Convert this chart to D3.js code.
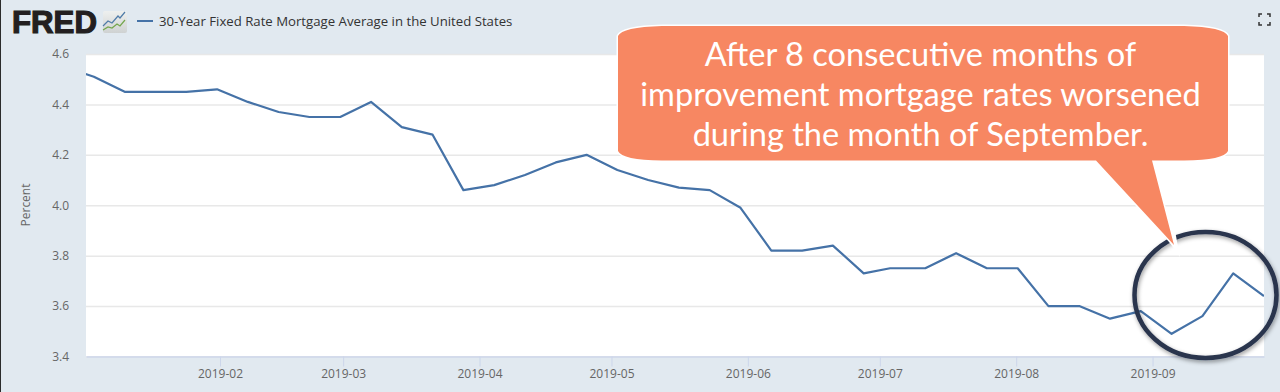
<!DOCTYPE html>
<html>
<head>
<meta charset="utf-8">
<script src="https://cdn.jsdelivr.net/npm/d3@7"></script>
<style>
  html, body { margin: 0; padding: 0; background: #e1e9f0; overflow: hidden; }
  text { font-family: "Open Sans", sans-serif; }
</style>
</head>
<body>
<div class="canvas"></div>
<script>
// weekly survey dates, first one sits just outside the visible range
const dates = [
  "2018-12-27", "2019-01-03", "2019-01-10", "2019-01-17", "2019-01-24", "2019-01-31",
  "2019-02-07", "2019-02-14", "2019-02-21", "2019-02-28", "2019-03-07", "2019-03-14",
  "2019-03-21", "2019-03-28", "2019-04-04", "2019-04-11", "2019-04-18", "2019-04-25",
  "2019-05-02", "2019-05-09", "2019-05-16", "2019-05-23", "2019-05-30", "2019-06-06",
  "2019-06-13", "2019-06-20", "2019-06-27", "2019-07-03", "2019-07-11", "2019-07-18",
  "2019-07-25", "2019-08-01", "2019-08-08", "2019-08-15", "2019-08-22", "2019-08-29",
  "2019-09-05", "2019-09-12", "2019-09-19", "2019-09-26"
];
const rates = [
  4.55, 4.51, 4.45, 4.45, 4.45, 4.46,
  4.41, 4.37, 4.35, 4.35, 4.41, 4.31,
  4.28, 4.06, 4.08, 4.12, 4.17, 4.20,
  4.14, 4.10, 4.07, 4.06, 3.99, 3.82,
  3.82, 3.84, 3.73, 3.75, 3.75, 3.81,
  3.75, 3.75, 3.60, 3.60, 3.55, 3.58,
  3.49, 3.56, 3.73, 3.64
];
const xTicks = ["2019-02-01", "2019-03-01", "2019-04-01", "2019-05-01", "2019-06-01", "2019-07-01", "2019-08-01", "2019-09-01"];
const yTicks = [3.4, 3.6, 3.8, 4.0, 4.2, 4.4, 4.6];
const seriesName = "30-Year Fixed Rate Mortgage Average in the United States";
const calloutLines = [
  "After 8 consecutive months of",
  "improvement mortgage rates worsened",
  "during the month of September."
];

const width = 1280;
const height = 392;
const plot = { left: 86, right: 1264, top: 54, bottom: 356.5 };

const svg = d3
  .select(".canvas")
  .append("svg")
  .attr("width", width)
  .attr("height", height)
  .style("display", "block");

svg.append("rect").attr("width", width).attr("height", height).attr("fill", "#e1e9f0");
svg.append("rect").attr("width", 1).attr("height", height).attr("fill", "#2b2b2b");

svg
  .append("rect")
  .attr("x", plot.left)
  .attr("y", plot.top)
  .attr("width", plot.right - plot.left)
  .attr("height", plot.bottom - plot.top)
  .attr("fill", "#fff");

// scales
const parseDate = d3.utcParse("%Y-%m-%d");
const xScale = d3
  .scaleUtc()
  .domain([new Date(Date.UTC(2019, 0, 1, 13)), new Date(Date.UTC(2019, 8, 26, 8))])
  .range([plot.left, plot.right]);
const yScale = d3.scaleLinear().domain([3.4, 4.6]).range([plot.bottom, plot.top]);

// y axis with gridlines
const yAxis = d3
  .axisLeft(yScale)
  .tickValues(yTicks)
  .tickFormat(d3.format(".1f"))
  .tickSize(plot.left - plot.right)
  .tickPadding(17);
const yGroup = svg.append("g").attr("transform", `translate(${plot.left},0)`).call(yAxis);
yGroup.select(".domain").remove();
yGroup.selectAll("line").attr("stroke", "#e8e8e8").attr("stroke-width", 1.5);
yGroup.selectAll("text").attr("fill", "#666").style("font-size", "12px");

// x axis
const xAxis = d3
  .axisBottom(xScale)
  .tickValues(xTicks.map(parseDate))
  .tickFormat(d3.utcFormat("%Y-%m"))
  .tickSizeInner(10)
  .tickSizeOuter(0)
  .tickPadding(3);
const xGroup = svg.append("g").attr("transform", `translate(0,${plot.bottom})`).call(xAxis);
xGroup.select(".domain").attr("stroke", "#ccd6eb").attr("stroke-width", 1.5);
xGroup.selectAll("line").attr("stroke", "#ccd6eb");
xGroup.selectAll("text").attr("fill", "#666").style("font-size", "12px");

svg
  .append("text")
  .attr("transform", "translate(30,205) rotate(-90)")
  .attr("text-anchor", "middle")
  .attr("fill", "#666")
  .style("font-size", "12px")
  .text("Percent");

// series line, clipped to the plot area
svg
  .append("clipPath")
  .attr("id", "plot-clip")
  .append("rect")
  .attr("x", plot.left)
  .attr("y", plot.top)
  .attr("width", plot.right - plot.left)
  .attr("height", plot.bottom - plot.top);

// points sit a few hours into their day on the source chart
const line = d3
  .line()
  .x((d, i) => xScale(d3.utcHour.offset(parseDate(dates[i]), 8)))
  .y(d => yScale(d));

svg
  .append("path")
  .datum(rates)
  .attr("clip-path", "url(#plot-clip)")
  .attr("fill", "none")
  .attr("stroke", "#4572a7")
  .attr("stroke-width", 2.2)
  .attr("stroke-linejoin", "round")
  .attr("d", line);

// legend
svg
  .append("line")
  .attr("x1", 137)
  .attr("x2", 153)
  .attr("y1", 21)
  .attr("y2", 21)
  .attr("stroke", "#4572a7")
  .attr("stroke-width", 2);
svg
  .append("text")
  .attr("x", 159)
  .attr("y", 25.5)
  .attr("fill", "#333")
  .style("font-size", "13.2px")
  .text(seriesName);

// FRED logo
svg
  .append("text")
  .attr("x", 12)
  .attr("y", 33)
  .attr("textLength", 85)
  .attr("lengthAdjust", "spacingAndGlyphs")
  .attr("fill", "#231f20")
  .attr("stroke", "#231f20")
  .attr("stroke-width", 1.2)
  .style("font-family", "'Liberation Sans', sans-serif")
  .style("font-weight", 700)
  .style("font-size", "31px")
  .text("FRED");

const logoGradient = svg
  .append("linearGradient")
  .attr("id", "logo-bg")
  .attr("x1", 0)
  .attr("y1", 0)
  .attr("x2", 0)
  .attr("y2", 1);
logoGradient.append("stop").attr("offset", 0).attr("stop-color", "#eef0ef");
logoGradient.append("stop").attr("offset", 1).attr("stop-color", "#cfd2d2");

svg
  .append("rect")
  .attr("x", 103)
  .attr("y", 11)
  .attr("width", 24)
  .attr("height", 22)
  .attr("rx", 2)
  .attr("fill", "url(#logo-bg)");
svg
  .append("path")
  .attr("d", "M103,26 L108,21 L112,23 L118,16 L120,18 L125,12")
  .attr("fill", "none")
  .attr("stroke", "#4f7ba8")
  .attr("stroke-width", 1.2);
svg
  .append("path")
  .attr("d", "M103,30 L108,27 L112,28 L117,24 L120,26 L125,20")
  .attr("fill", "none")
  .attr("stroke", "#74a64c")
  .attr("stroke-width", 1.2);

// fullscreen icon
svg
  .append("path")
  .attr("d", "M1259,17 V14 H1262 M1267,14 H1270 V17 M1270,22 V25 H1267 M1262,25 H1259 V22")
  .attr("fill", "none")
  .attr("stroke", "#333")
  .attr("stroke-width", 1.5);

// annotation: ring around September, then the speech bubble on top
const blur = svg.append("filter").attr("id", "ring-shadow").attr("x", "-20%").attr("y", "-20%").attr("width", "140%").attr("height", "140%");
blur.append("feDropShadow").attr("dx", 1).attr("dy", 2).attr("stdDeviation", 2).attr("flood-color", "#000").attr("flood-opacity", 0.4);

svg
  .append("ellipse")
  .attr("cx", 1205.5)
  .attr("cy", 295)
  .attr("rx", 71)
  .attr("ry", 63)
  .attr("fill", "none")
  .attr("stroke", "#29344d")
  .attr("stroke-width", 4.5)
  .attr("filter", "url(#ring-shadow)");

// white sliver past the tail tip, cuts the ring like the bubble outline does
svg
  .append("path")
  .attr("d", "M1150,215 L1180,257 L1172,215 Z")
  .attr("fill", "#fff");

svg
  .append("path")
  .attr(
    "d",
    "M618,36 Q622,27 662,26 L1184,26 Q1224,27 1228,36 L1228,151 Q1224,160 1184,160.5 L1152,160.5 L1174,245 L1096,160.5 L662,160.5 Q622,160 618,151 Z"
  )
  .attr("fill", "#f78762")
  .attr("stroke", "#fff")
  .attr("stroke-width", 3)
  .attr("stroke-miterlimit", 10)
  .attr("paint-order", "stroke");

svg
  .append("g")
  .selectAll("text")
  .data(calloutLines)
  .enter()
  .append("text")
  .attr("x", 920.5)
  .attr("y", (d, i) => 65.5 + i * 40)
  .attr("text-anchor", "middle")
  .attr("fill", "#fff")
  .style("font-family", "Lato, sans-serif")
  .style("font-size", "32.6px")
  .text(d => d);
</script>
</body>
</html>
